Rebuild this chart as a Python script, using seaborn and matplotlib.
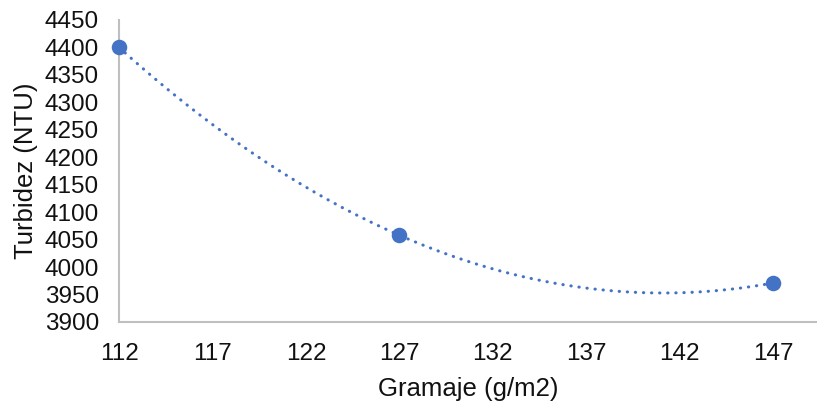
import numpy as np
import pandas as pd
import matplotlib
matplotlib.use("Agg")
import matplotlib.pyplot as plt
import seaborn as sns

gramaje = [112, 127, 147]
turbidez = [4400, 4058, 3971]
x_ticks = [112, 117, 122, 127, 132, 137, 142, 147]
y_ticks = [3900, 3950, 4000, 4050, 4100, 4150, 4200, 4250, 4300, 4350, 4400, 4450]

sns.set_theme(style="white")
plt.rcParams['font.family'] = ['Liberation Sans', 'DejaVu Sans']

color = "#4472C4"
df = pd.DataFrame({"Gramaje": gramaje, "Turbidez": turbidez})

fig = plt.figure(figsize=(8.17, 4.04), dpi=100)
ax = fig.add_axes([0.1457, 0.203, 0.8543, 0.7475])

# polynomial (order 2) trendline
coef = np.polyfit(df["Gramaje"], df["Turbidez"], 2)
xs = np.linspace(min(gramaje), max(gramaje), 300)
trend = pd.DataFrame({"Gramaje": xs, "Turbidez": np.polyval(coef, xs)})
sns.lineplot(data=trend, x="Gramaje", y="Turbidez", ax=ax, color=color,
             linewidth=2.2, linestyle=(0, (0.1, 2.55)), dash_capstyle="round")
ax.lines[-1].set_dash_capstyle("round")

sns.scatterplot(data=df, x="Gramaje", y="Turbidez", ax=ax, color=color,
                s=125, edgecolor=color, linewidth=0, zorder=5, clip_on=False)

ax.set_xlim(112, 149.35)
ax.set_ylim(3900, 4450)
ax.set_xticks(x_ticks)
ax.set_yticks(y_ticks)
ax.tick_params(axis="both", labelsize=17.5, colors="#111111", length=0)
ax.tick_params(axis="x", pad=15)
ax.tick_params(axis="y", pad=14.5)
for s in ["top", "right"]:
    ax.spines[s].set_visible(False)
for s in ["left", "bottom"]:
    ax.spines[s].set_color("#BFBFBF")
    ax.spines[s].set_linewidth(1.5)
ax.set_xlabel("Gramaje (g/m2)", fontsize=18.5, color="#111111", labelpad=9)
ax.set_ylabel("Turbidez (NTU)", fontsize=18.5, color="#111111", labelpad=5)

fig.savefig("out.png", dpi=100)
